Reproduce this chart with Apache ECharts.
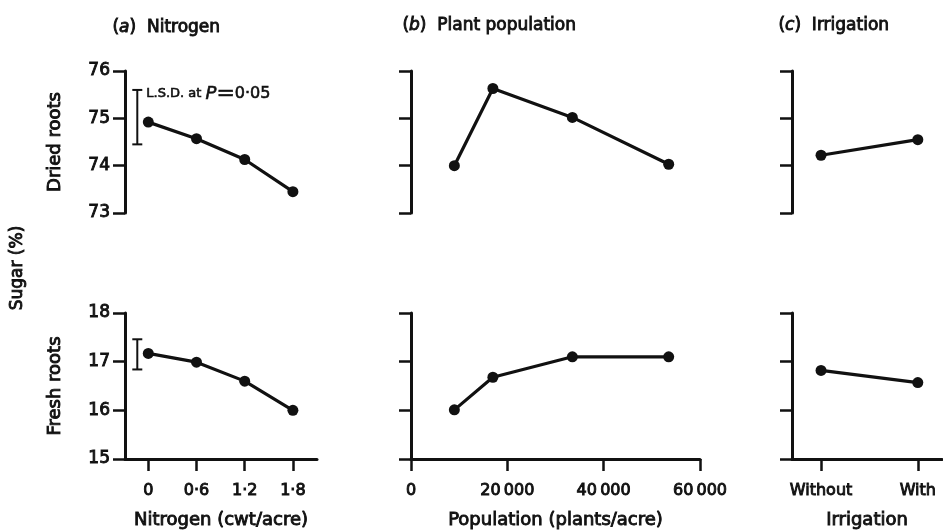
<!DOCTYPE html>
<html>
<head>
<meta charset="utf-8">
<script src="https://cdn.jsdelivr.net/npm/echarts@6/dist/echarts.min.js"></script>
<style>html,body{margin:0;padding:0;background:#fff}#c{width:943px;height:531px}</style>
</head>
<body>
<div id="c"></div>
<script>
// ---- data ----
const nitrogen = [0, 0.6, 1.2, 1.8];
const nitrogenLabels = ['0', '0·6', '1·2', '1·8'];
const driedN = [74.92, 74.57, 74.13, 73.45];
const freshN = [17.17, 16.99, 16.60, 16.00];
const lsdDried = [74.45, 75.60];
const lsdFresh = [16.84, 17.46];

const population = [9000, 17000, 33500, 53500];
const populationTicks = [0, 20000, 40000, 60000];
const populationLabels = ['0', '20\u2009000', '40\u2009000', '60\u2009000'];
const driedP = [74.00, 75.63, 75.02, 74.03];
const freshP = [16.01, 16.68, 17.10, 17.10];

const irrigation = [0, 1];
const irrigationLabels = ['Without', 'With'];
const driedI = [74.22, 74.55];
const freshI = [16.82, 16.57];

const driedTicks = [73, 76];
const freshTicks = [15, 18];

// ---- chart ----
const FONT = 'DejaVu Sans';
const INK = '#111';
const W = 'normal';
const BW = 0.9; // slight stroke to mimic the heavy print
const chart = echarts.init(document.getElementById('c'));

const grids = [
  {left: 125, width: 192, top: 71, height: 142},
  {left: 125, width: 192, top: 313, height: 146},
  {left: 411, width: 289, top: 71, height: 142},
  {left: 411, width: 289, top: 313, height: 146},
  {left: 792, width: 150, top: 71, height: 142},
  {left: 792, width: 150, top: 313, height: 146}
];

const txt = (size) => ({color: INK, fontFamily: FONT, fontSize: size, fontWeight: W, textBorderColor: INK, textBorderWidth: BW});

function yAxis(i, range, showLabels, name) {
  return {
    type: 'value', gridIndex: i, min: range[0], max: range[1], interval: 1,
    splitLine: {show: false},
    axisLine: {show: true, onZero: false, lineStyle: {color: INK, width: 3}},
    axisTick: {show: true, inside: false, length: 12, lineStyle: {color: INK, width: 2.5}},
    axisLabel: Object.assign({show: showLabels, margin: 15}, txt(17)),
    name: name || '', nameLocation: 'middle', nameGap: 61, nameRotate: 90,
    nameTextStyle: txt(18)
  };
}

function xAxis(i, min, max, ticks, labels, showAxis, name) {
  return {
    type: 'value', gridIndex: i, min: min, max: max,
    splitLine: {show: false},
    show: showAxis,
    axisLine: {show: true, onZero: false, lineStyle: {color: INK, width: 3}},
    axisTick: {show: true, inside: false, length: 12, customValues: ticks, lineStyle: {color: INK, width: 2.5}},
    axisLabel: Object.assign({show: true, customValues: ticks, margin: 24,
      formatter: v => labels[ticks.indexOf(v)] ?? ''}, txt(16)),
    name: name || '', nameLocation: 'middle', nameGap: 52,
    nameTextStyle: txt(18)
  };
}

const nMin = -0.29, nMax = 2.1;
const iMin = -0.3, iMax = 1.25;

const xAxes = [
  xAxis(0, nMin, nMax, nitrogen, nitrogenLabels, false),
  xAxis(1, nMin, nMax, nitrogen, nitrogenLabels, true, 'Nitrogen (cwt/acre)'),
  xAxis(2, 0, 60000, populationTicks, populationLabels, false),
  xAxis(3, 0, 60000, populationTicks, populationLabels, true, 'Population (plants/acre)'),
  xAxis(4, iMin, iMax, irrigation, irrigationLabels, false),
  xAxis(5, iMin, iMax, irrigation, irrigationLabels, true, 'Irrigation')
];
const yAxes = [
  yAxis(0, driedTicks, true, 'Dried roots'),
  yAxis(1, freshTicks, true, 'Fresh roots'),
  yAxis(2, driedTicks, false),
  yAxis(3, freshTicks, false),
  yAxis(4, driedTicks, false),
  yAxis(5, freshTicks, false)
];

function lineSeries(i, xs, ys) {
  return {
    type: 'line', xAxisIndex: i, yAxisIndex: i,
    data: xs.map((x, k) => [x, ys[k]]),
    symbol: 'circle', symbolSize: 11,
    itemStyle: {color: INK},
    lineStyle: {color: INK, width: 3.2},
    animation: false, silent: true
  };
}

function lsdSeries(i, range, withLabel) {
  return {
    type: 'custom', xAxisIndex: i, yAxisIndex: i, animation: false, silent: true,
    data: [[nitrogen[0], range[0], range[1]]],
    renderItem: (params, api) => {
      const lo = api.coord([api.value(0), api.value(1)]);
      const hi = api.coord([api.value(0), api.value(2)]);
      const x = lo[0] - 11;
      const st = {stroke: INK, lineWidth: 2};
      const children = [
        {type: 'line', shape: {x1: x, y1: lo[1], x2: x, y2: hi[1]}, style: st},
        {type: 'line', shape: {x1: x - 5, y1: lo[1], x2: x + 5, y2: lo[1]}, style: st},
        {type: 'line', shape: {x1: x - 5, y1: hi[1], x2: x + 5, y2: hi[1]}, style: st}
      ];
      if (withLabel) {
        children.push({
          type: 'text',
          style: {
            x: x + 9, y: hi[1] + 4,
            text: 'L.S.D. at {i|P}{e|=}{n|0·05}',
            verticalAlign: 'middle', align: 'left',
            fill: INK, fontFamily: FONT, fontSize: 13, stroke: INK, lineWidth: 0.6,
            rich: {
              i: {fontStyle: 'italic', fontSize: 18, fontFamily: FONT, fill: INK},
              e: {fontSize: 22, fontFamily: FONT, fill: INK},
              n: {fontSize: 16, fontFamily: FONT, fill: INK}
            }
          }
        });
      }
      return {type: 'group', children: children};
    }
  };
}

const titleStyle = {fill: INK, fontFamily: FONT, fontSize: 17, stroke: INK, lineWidth: BW};
const italicRich = {i: {fontStyle: 'italic', fontFamily: FONT, fontSize: 17, fill: INK}};
const graphics = [
  {type: 'text', left: 112, top: 19, style: Object.assign({text: '({i|a})  Nitrogen', rich: italicRich}, titleStyle)},
  {type: 'text', left: 402, top: 17, style: Object.assign({text: '({i|b})  Plant population', rich: italicRich}, titleStyle)},
  {type: 'text', left: 778, top: 17, style: Object.assign({text: '({i|c})  Irrigation', rich: italicRich}, titleStyle)},
  {type: 'text', x: 18, y: 268, rotation: Math.PI / 2,
    style: {text: 'Sugar (%)', fill: INK, fontFamily: FONT, fontSize: 17, stroke: INK, lineWidth: BW, align: 'center', verticalAlign: 'middle'}}
];

chart.setOption({
  animation: false,
  backgroundColor: '#fff',
  grid: grids,
  xAxis: xAxes,
  yAxis: yAxes,
  graphic: graphics,
  series: [
    lineSeries(0, nitrogen, driedN),
    lineSeries(1, nitrogen, freshN),
    lineSeries(2, population, driedP),
    lineSeries(3, population, freshP),
    lineSeries(4, irrigation, driedI),
    lineSeries(5, irrigation, freshI),
    lsdSeries(0, lsdDried, true),
    lsdSeries(1, lsdFresh, false)
  ]
});
</script>
</body>
</html>
